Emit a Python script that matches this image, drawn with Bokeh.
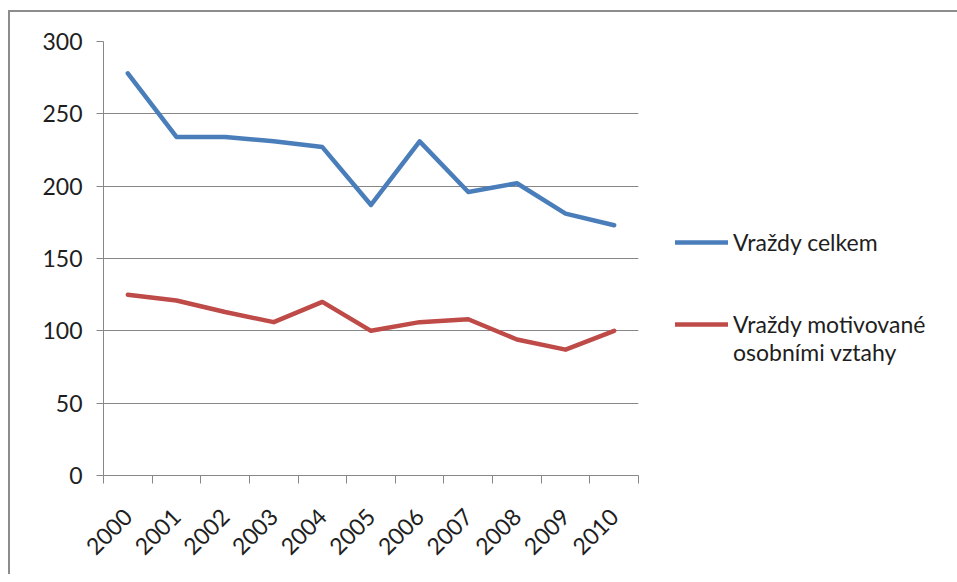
import math
from bokeh.plotting import figure
from bokeh.models import FixedTicker, Legend, LegendItem, Range1d
from bokeh.embed import file_html
from bokeh.resources import INLINE

years = ["2000", "2001", "2002", "2003", "2004", "2005",
         "2006", "2007", "2008", "2009", "2010"]
total = [278, 234, 234, 231, 227, 187, 231, 196, 202, 181, 173]
personal = [125, 121, 113, 106, 120, 100, 106, 108, 94, 87, 100]
y_ticks = [0, 50, 100, 150, 200, 250, 300]
# leading blank line keeps the legend line level with the first text line
series_names = ["Vraždy celkem", "\nVraždy motivované\nosobními vztahy"]

FONT = "Lato"
TEXT = "#1e1e1e"
GRID = "#878787"
FS = "23px"

xs = [i + 0.5 for i in range(len(years))]

p = figure(frame_width=535, frame_height=434,
           x_range=Range1d(0, len(years)), y_range=Range1d(0, 300),
           output_backend="svg", toolbar_location=None,
           min_border_left=93, min_border_right=300,
           min_border_top=29, min_border_bottom=99)
p.styles = {"margin-left": "8px", "margin-top": "10px",
            "border-left": "2px solid #8c8c8c", "border-top": "2px solid #8c8c8c"}
p.outline_line_color = None
p.background_fill_color = "white"
p.border_fill_color = "white"

r1 = p.line(xs, total, line_color="#4A7EBB", line_width=4.5, line_join="round", line_cap="round")
r2 = p.line(xs, personal, line_color="#BE4B48", line_width=4.5, line_join="round", line_cap="round")

# y axis
p.yaxis.ticker = FixedTicker(ticks=y_ticks, minor_ticks=[])
p.yaxis.axis_line_color = GRID
p.yaxis.major_tick_line_color = GRID
p.yaxis.major_tick_out = 7
p.yaxis.major_tick_in = 0
p.yaxis.minor_tick_line_color = None
p.yaxis.major_label_text_font = FONT
p.yaxis.major_label_text_font_size = FS
p.yaxis.major_label_text_color = TEXT
p.yaxis.major_label_standoff = 14

# x axis: labels at category centres, tick marks at category boundaries
p.xaxis.ticker = FixedTicker(ticks=xs, minor_ticks=list(range(len(years) + 1)))
p.xaxis.major_label_overrides = {x: y for x, y in zip(xs, years)}
p.xaxis.axis_line_color = GRID
p.xaxis.major_tick_line_color = None
p.xaxis.major_tick_out = 0
p.xaxis.major_tick_in = 0
p.xaxis.minor_tick_line_color = GRID
p.xaxis.minor_tick_out = 8
p.xaxis.minor_tick_in = 0
p.xaxis.major_label_orientation = math.pi / 4
p.xaxis.major_label_text_font = FONT
p.xaxis.major_label_text_font_size = FS
p.xaxis.major_label_text_color = TEXT
p.xaxis.major_label_standoff = 29

p.xgrid.visible = False
p.ygrid.ticker = FixedTicker(ticks=y_ticks, minor_ticks=[])
p.ygrid.grid_line_color = GRID
p.ygrid.grid_line_width = 1

legend = Legend(items=[LegendItem(label=series_names[0], renderers=[r1]),
                       LegendItem(label=series_names[1], renderers=[r2])],
                location=(37, 109), padding=0, margin=0, spacing=26,
                glyph_width=53, glyph_height=20, label_standoff=5,
                label_text_font=FONT, label_text_font_size=FS,
                label_text_color=TEXT, label_text_line_height=1.8,
                border_line_color=None, background_fill_alpha=0)
p.add_layout(legend, "right")

open("out.html", "w").write(file_html(p, INLINE))
